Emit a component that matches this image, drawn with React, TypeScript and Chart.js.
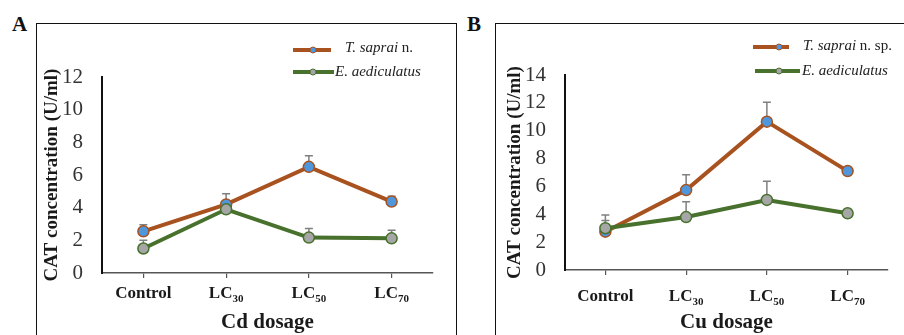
import React, { useEffect, useRef } from "react";
import { Chart, registerables } from "chart.js";
Chart.register(...registerables);

// ---------- data ----------
const categories = ["Control", "LC30", "LC50", "LC70"];

const cdSaprai = [2.55, 4.2, 6.5, 4.37];
const cdSapraiErr = [0.4, 0.65, 0.68, 0.33];
const cdAedic = [1.5, 3.9, 2.17, 2.12];
const cdAedicErr = [0.5, 0.3, 0.55, 0.5];

const cuSaprai = [2.75, 5.74, 10.65, 7.1];
const cuSapraiErr = [0.8, 1.1, 1.4, 0.3];
const cuAedic = [3.0, 3.8, 5.03, 4.07];
const cuAedicErr = [0.95, 1.1, 1.35, 0.3];

const cdYMax = 12;
const cuYMax = 14;
const yStep = 2;

const yTitle = "CAT concentration (U/ml)";
const cdXTitle = "Cd dosage";
const cuXTitle = "Cu dosage";

const sapraiNameA = [
  { text: "T. saprai", italic: true },
  { text: " n.", italic: false },
];
const sapraiNameB = [
  { text: "T. saprai", italic: true },
  { text: " n. sp.", italic: false },
];
const aedicName = [{ text: "E. aediculatus", italic: true }];

// ---------- styles ----------
const SERIF = "'Liberation Serif', 'Times New Roman', serif";
const BROWN = "#A8521F";
const BLUE = "#4F97DC";
const GREEN = "#47712C";
const GREY = "#A6A6A6";
const ERR = "#808080";

const errorBarPlugin = {
  id: "errorBars",
  beforeDatasetsDraw(chart: any) {
    const ctx = chart.ctx;
    const y = chart.scales.y;
    ctx.save();
    ctx.strokeStyle = ERR;
    ctx.lineWidth = 1.5;
    chart.data.datasets.forEach((ds: any, di: number) => {
      const meta = chart.getDatasetMeta(di);
      (ds.errors || []).forEach((e: number, i: number) => {
        const pt = meta.data[i];
        if (!pt) return;
        const v = ds.data[i];
        const x = pt.x;
        const yt = y.getPixelForValue(v + e);
        const yc = y.getPixelForValue(v);
        ctx.beginPath();
        ctx.moveTo(x, yt);
        ctx.lineTo(x, yc);
        ctx.moveTo(x - 4, yt);
        ctx.lineTo(x + 4, yt);
        ctx.stroke();
      });
    });
    ctx.restore();
  },
};

const legendPlugin = {
  id: "panelLegend",
  afterDraw(chart: any, _args: any, opts: any) {
    const ctx = chart.ctx;
    ctx.save();
    (opts.items || []).forEach((it: any) => {
      ctx.strokeStyle = it.line;
      ctx.lineWidth = 4;
      ctx.beginPath();
      ctx.moveTo(it.x1, it.y);
      ctx.lineTo(it.x2, it.y);
      ctx.stroke();
      ctx.beginPath();
      ctx.arc(it.mx, it.y, 3, 0, Math.PI * 2);
      ctx.fillStyle = it.fill;
      ctx.fill();
      ctx.lineWidth = 1;
      ctx.strokeStyle = it.line;
      ctx.stroke();
      let x = it.tx;
      ctx.fillStyle = "#222";
      ctx.textBaseline = "middle";
      ctx.textAlign = "left";
      it.parts.forEach((p: any) => {
        ctx.font = `${p.italic ? "italic " : ""}15px ${SERIF}`;
        ctx.fillText(p.text, x, it.ty);
        x += ctx.measureText(p.text).width;
      });
    });
    ctx.restore();
  },
};

const xLabelPlugin = {
  id: "xLabels",
  afterDraw(chart: any, _args: any, opts: any) {
    const ctx = chart.ctx;
    const xs = chart.scales.x;
    const base = chart.chartArea.bottom + opts.dy;
    ctx.save();
    ctx.fillStyle = "#1a1a1a";
    ctx.textBaseline = "alphabetic";
    ctx.textAlign = "left";
    (chart.data.labels as string[]).forEach((lab, i) => {
      const x = xs.getPixelForTick(i);
      const m = /^([A-Za-z]+?)(\d+)$/.exec(lab);
      const main = m ? m[1] : lab;
      const sub = m ? m[2] : "";
      ctx.font = `bold 17px ${SERIF}`;
      const w1 = ctx.measureText(main).width;
      ctx.font = `bold 11px ${SERIF}`;
      const w2 = sub ? ctx.measureText(sub).width : 0;
      const start = x - (w1 + w2) / 2;
      ctx.font = `bold 17px ${SERIF}`;
      ctx.fillText(main, start, base);
      if (sub) {
        ctx.font = `bold 11px ${SERIF}`;
        ctx.fillText(sub, start + w1, base + 4);
      }
    });
    ctx.restore();
  },
};

type PanelProps = {
  width: number;
  height: number;
  saprai: number[];
  sapraiErr: number[];
  aedic: number[];
  aedicErr: number[];
  sapraiName: any[];
  yMax: number;
  xTitle: string;
  yWidth: number;
  xHeight: number;
  padTop: number;
  padRight: number;
  yTitlePad: number;
  labelDy: number;
  legend: any[];
};

function Panel(p: PanelProps & { style: React.CSSProperties }) {
  const ref = useRef<HTMLCanvasElement | null>(null);
  useEffect(() => {
    if (!ref.current) return;
    const chart = new Chart(ref.current, {
      type: "line",
      data: {
        labels: categories,
        datasets: [
          {
            label: aedicName.map((q) => q.text).join(""),
            data: p.aedic,
            errors: p.aedicErr,
            borderColor: GREEN,
            backgroundColor: GREY,
            pointBackgroundColor: GREY,
            pointBorderColor: GREEN,
            borderWidth: 4,
            pointRadius: 5.5,
            pointBorderWidth: 1.5,
            order: 0,
          } as any,
          {
            label: p.sapraiName.map((q) => q.text).join(""),
            data: p.saprai,
            errors: p.sapraiErr,
            borderColor: BROWN,
            backgroundColor: BLUE,
            pointBackgroundColor: BLUE,
            pointBorderColor: BROWN,
            borderWidth: 4,
            pointRadius: 5.5,
            pointBorderWidth: 1.5,
            order: 1,
          } as any,
        ],
      },
      options: {
        responsive: false,
        animation: false,
        layout: { padding: { left: 0, top: p.padTop, right: p.padRight, bottom: 0 } },
        plugins: {
          legend: { display: false },
          tooltip: { enabled: false },
          panelLegend: { items: p.legend },
          xLabels: { dy: p.labelDy },
        } as any,
        scales: {
          x: {
            offset: true,
            grid: {
              display: true,
              drawOnChartArea: false,
              drawTicks: true,
              tickLength: 5,
              offset: false,
              color: "#555",
              lineWidth: 1.2,
            },
            border: { color: "#555", width: 1.5 },
            ticks: { display: false },
            title: {
              display: true,
              text: p.xTitle,
              color: "#1a1a1a",
              font: { family: SERIF, size: 21, weight: "bold" },
              padding: { top: 0, bottom: 0 },
            },
            afterFit: (s: any) => {
              s.height = p.xHeight;
            },
          },
          y: {
            min: 0,
            max: p.yMax,
            ticks: {
              stepSize: yStep,
              autoSkip: false,
              padding: 19,
              color: "#333",
              font: { family: SERIF, size: 21 },
            },
            grid: { display: false, drawTicks: false },
            border: { color: "#111", width: 2 },
            title: {
              display: true,
              text: yTitle,
              color: "#1a1a1a",
              font: { family: SERIF, size: 19, weight: "bold" },
              padding: { top: p.yTitlePad, bottom: 0 },
            },
            afterFit: (s: any) => {
              s.width = p.yWidth;
            },
          },
        },
      } as any,
      plugins: [errorBarPlugin, legendPlugin, xLabelPlugin],
    });
    return () => chart.destroy();
  }, []);
  return (
    <canvas
      ref={ref}
      width={p.width}
      height={p.height}
      style={{ position: "absolute", display: "block", ...p.style }}
    />
  );
}

export default function App() {
  const legendA = [
    { x1: 293, x2: 331, mx: 313, y: 50, line: BROWN, fill: BLUE, tx: 345, ty: 48, parts: sapraiNameA },
    { x1: 293, x2: 334, mx: 313, y: 72, line: GREEN, fill: GREY, tx: 335, ty: 72, parts: aedicName },
  ];
  const legendB = [
    { x1: 293, x2: 329, mx: 319, y: 47, line: BROWN, fill: BLUE, tx: 343, ty: 46, parts: sapraiNameB },
    { x1: 295, x2: 340, mx: 319, y: 71, line: GREEN, fill: GREY, tx: 342, ty: 71, parts: aedicName },
  ];
  const frame: React.CSSProperties = {
    position: "absolute",
    border: "1.5px solid #111",
    boxSizing: "border-box",
  };
  const letter: React.CSSProperties = {
    position: "absolute",
    fontFamily: SERIF,
    fontWeight: "bold",
    fontSize: 21,
    lineHeight: "21px",
    color: "#111",
  };
  return (
    <div
      style={{
        position: "fixed",
        left: 0,
        top: 0,
        width: 904,
        height: 335,
        overflow: "hidden",
        background: "#fff",
      }}
    >
      <div style={{ ...frame, left: 36, top: 23, width: 421, height: 400 }} />
      <div style={{ ...frame, left: 495, top: 23, width: 500, height: 400 }} />
      <div style={{ ...letter, left: 12, top: 14 }}>A</div>
      <div style={{ ...letter, left: 467, top: 14 }}>B</div>
      <Panel
        style={{ left: 0, top: 0 }}
        width={460}
        height={335}
        saprai={cdSaprai}
        sapraiErr={cdSapraiErr}
        aedic={cdAedic}
        aedicErr={cdAedicErr}
        sapraiName={sapraiNameA}
        yMax={cdYMax}
        xTitle={cdXTitle}
        yWidth={102}
        xHeight={62}
        padTop={77}
        padRight={27}
        yTitlePad={41}
        labelDy={25}
        legend={legendA}
      />
      <Panel
        style={{ left: 460, top: 0 }}
        width={444}
        height={335}
        saprai={cuSaprai}
        sapraiErr={cuSapraiErr}
        aedic={cuAedic}
        aedicErr={cuAedicErr}
        sapraiName={sapraiNameB}
        yMax={cuYMax}
        xTitle={cuXTitle}
        yWidth={105}
        xHeight={65}
        padTop={75}
        padRight={16}
        yTitlePad={44}
        labelDy={31}
        legend={legendB}
      />
    </div>
  );
}
